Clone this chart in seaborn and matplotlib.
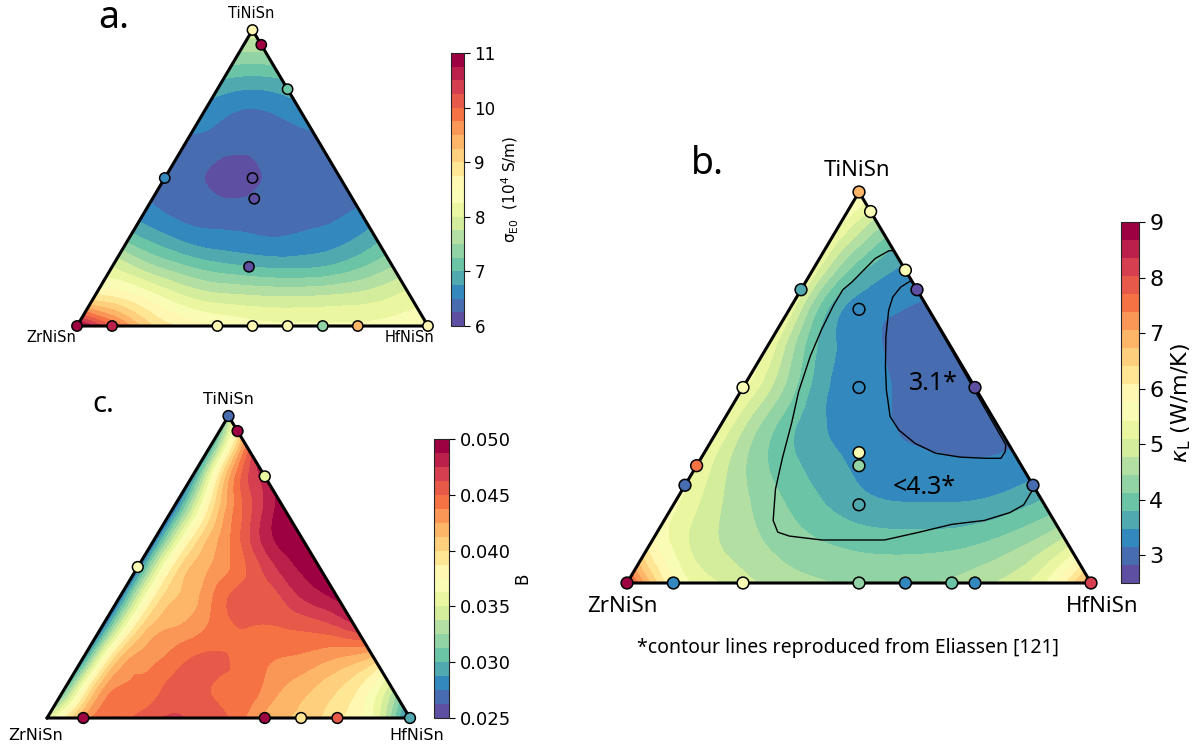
import numpy as np
import pandas as pd
import matplotlib
matplotlib.use("Agg")
import matplotlib.pyplot as plt
import matplotlib.tri as mtri
from matplotlib.colors import ListedColormap, Normalize
from matplotlib.cm import ScalarMappable
import seaborn as sns

# ---------------- data ----------------
# Field values on a 0.1-step composition grid. Row k: Ti = k/10,
# entries go from Hf = 0 (Zr-Ti edge) to Hf = 1 - Ti (Ti-Hf edge).
sigma_rows = [
    [11.0, 10.0, 9.1, 8.7, 8.5, 8.35, 8.3, 8.3, 8.3, 8.35, 8.4],
    [8.8, 8.6, 8.2, 7.9, 7.8, 7.75, 7.75, 7.8, 7.9, 8.1],
    [8.0, 7.6, 7.3, 7.1, 7.0, 6.95, 7.0, 7.2, 7.5],
    [7.1, 6.8, 6.6, 6.55, 6.5, 6.55, 6.65, 6.9],
    [6.55, 6.4, 6.35, 6.35, 6.35, 6.4, 6.5],
    [6.4, 6.28, 6.1, 6.3, 6.35, 6.45],
    [6.4, 6.35, 6.3, 6.35, 6.4],
    [6.6, 6.45, 6.45, 6.6],
    [6.85, 6.75, 6.85],
    [7.35, 7.35],
    [7.9],
]
kappa_rows = [
    [8.0, 5.8, 5.1, 4.7, 4.5, 4.4, 4.4, 4.5, 4.8, 5.4, 7.2],
    [5.9, 5.0, 4.6, 4.3, 4.1, 4.0, 4.0, 4.1, 4.4, 5.0],
    [5.5, 4.8, 4.3, 3.9, 3.6, 3.5, 3.5, 3.6, 3.9],
    [5.4, 4.5, 3.9, 3.55, 3.3, 3.25, 3.2, 3.3],
    [5.4, 4.3, 3.6, 3.3, 3.1, 2.95, 3.0],
    [5.5, 4.3, 3.4, 3.2, 2.95, 2.95],
    [5.4, 3.9, 3.3, 3.0, 3.0],
    [5.3, 3.6, 3.2, 3.1],
    [5.3, 3.9, 3.4],
    [5.4, 4.3],
    [5.9],
]
b_rows = [
    [0.035, 0.0425, 0.045, 0.046, 0.046, 0.045, 0.042, 0.041, 0.039, 0.036, 0.0265],
    [0.030, 0.042, 0.044, 0.0455, 0.045, 0.0445, 0.0425, 0.041, 0.039, 0.034],
    [0.028, 0.041, 0.0435, 0.045, 0.045, 0.044, 0.0435, 0.0425, 0.041],
    [0.027, 0.0395, 0.0425, 0.044, 0.045, 0.045, 0.0455, 0.047],
    [0.027, 0.039, 0.042, 0.045, 0.0455, 0.0475, 0.049],
    [0.027, 0.039, 0.0425, 0.045, 0.048, 0.0495],
    [0.027, 0.0385, 0.0435, 0.048, 0.0495],
    [0.027, 0.039, 0.0455, 0.0495],
    [0.028, 0.042, 0.048],
    [0.029, 0.044],
    [0.033],
]

# Measured samples (Ti fraction, Hf fraction, value)
a_ti = [1.0, 0.95, 0.8, 0.5, 0.5, 0.43, 0.2, 0.0, 0.0, 0.0, 0.0, 0.0, 0.0, 0.0, 0.0]
a_hf = [0.0, 0.05, 0.2, 0.0, 0.25, 0.29, 0.39, 0.0, 0.1, 0.4, 0.5, 0.6, 0.7, 0.8, 1.0]
a_val = [8.6, 10.9, 7.1, 6.6, 6.1, 6.2, 6.1, 11.0, 10.6, 8.7, 8.5, 8.6, 7.3, 9.4, 8.6]

b_ti = [1.0, 0.95, 0.8, 0.75, 0.5, 0.25, 0.75, 0.5, 0.3, 0.25,
        0.7, 0.5, 1/3, 0.3, 0.2, 0.0, 0.0, 0.0, 0.0, 0.0, 0.0, 0.0, 0.0]
b_hf = [0.0, 0.05, 0.2, 0.25, 0.5, 0.75, 0.0, 0.0, 0.0, 0.0,
        0.15, 0.25, 1/3, 0.35, 0.4, 0.0, 0.1, 0.25, 0.5, 0.6, 0.7, 0.75, 1.0]
b_val = [7.0, 5.6, 5.6, 2.7, 2.7, 2.9, 3.7, 5.6, 7.6, 2.9,
         3.3, 3.3, 5.7, 4.2, 3.7, 9.0, 3.2, 5.5, 4.4, 3.2, 4.1, 3.2, 8.2]

c_ti = [1.0, 0.95, 0.8, 0.5, 0.0, 0.0, 0.0, 0.0, 0.0]
c_hf = [0.0, 0.05, 0.2, 0.0, 0.1, 0.6, 0.7, 0.8, 1.0]
c_val = [0.027, 0.0495, 0.036, 0.0365, 0.0495, 0.0495, 0.0395, 0.046, 0.029]

# Contour lines reproduced from Eliassen (Ti fraction, Hf fraction)
outer_ti = [0.85, 0.85, 0.83, 0.77, 0.75, 0.71, 0.65, 0.58, 0.49, 0.41, 0.32, 0.24,
            0.16, 0.13, 0.12, 0.11, 0.11, 0.11, 0.13, 0.15, 0.16, 0.18, 0.20, 0.245, 0.85]
outer_hf = [0.15, 0.14, 0.12, 0.10, 0.09, 0.09, 0.095, 0.105, 0.125, 0.15, 0.175, 0.20,
            0.235, 0.26, 0.29, 0.365, 0.445, 0.50, 0.565, 0.625, 0.69, 0.735, 0.755, 0.755, 0.15]
inner_ti = [0.774, 0.757, 0.732, 0.698, 0.63, 0.553, 0.494, 0.426, 0.391, 0.357,
            0.332, 0.322, 0.319, 0.319, 0.336, 0.353, 0.774]
inner_hf = [0.226, 0.2115, 0.207, 0.215, 0.243, 0.2805, 0.312, 0.354, 0.3905, 0.4425,
            0.499, 0.557, 0.6115, 0.6465, 0.647, 0.64, 0.226]

corner_names = ["TiNiSn", "ZrNiSn", "HfNiSn"]

# ---------------- drawing ----------------
sns.set_style("white")
plt.rcParams['font.family'] = ['DejaVu Sans']
for k in ['text.color', 'axes.labelcolor', 'xtick.color', 'ytick.color']:
    plt.rcParams[k] = 'black'
S3 = np.sqrt(3) / 2
W, H = 1200, 749
fig = plt.figure(figsize=(12, 7.49), dpi=100)


def px_axes(x0, y0, x1, y1):
    return fig.add_axes([x0 / W, 1 - y1 / H, (x1 - x0) / W, (y1 - y0) / H])


def txt(x, y, s, **kw):
    fig.text(x / W, 1 - y / H, s, ha='center', va='center', **kw)


def to_xy(ti, hf):
    ti = np.asarray(ti, float)
    hf = np.asarray(hf, float)
    return hf + ti / 2, ti * S3


base = sns.color_palette("Spectral_r", as_cmap=True)
cmap = ListedColormap(base(np.linspace(0, 1, 20)))
cmap.set_under(cmap(0))
cmap.set_over(cmap(19))


def panel(ax, rows, vmin, vmax, pti, phf, pval, size):
    ti, hf, z = [], [], []
    for k, row in enumerate(rows):
        for j, v in enumerate(row):
            ti.append(k / 10)
            hf.append(j / 10)
            z.append(v)
    x, y = to_xy(ti, hf)
    tri = mtri.Triangulation(x, y)
    tri2, z2 = mtri.UniformTriRefiner(tri).refine_field(np.array(z), subdiv=4)
    ax.tricontourf(tri2, z2, levels=np.linspace(vmin, vmax, 21), cmap=cmap,
                   norm=Normalize(vmin, vmax), extend='both')
    ax.plot([0, 1, 0.5, 0], [0, 0, S3, 0], color='black', lw=2.2,
            clip_on=False, solid_joinstyle='round', zorder=4)
    px, py = to_xy(pti, phf)
    df = pd.DataFrame({"x": px, "y": py, "v": pval})
    sns.scatterplot(data=df, x="x", y="y", hue="v", palette=cmap,
                    hue_norm=(vmin, vmax), s=size, edgecolor='black',
                    linewidth=1.1, legend=False, ax=ax, clip_on=False, zorder=6)
    ax.set_xlim(0, 1)
    ax.set_ylim(0, S3)
    ax.set_axis_off()


def cbar(cax, vmin, vmax, ticks, fs, label, lfs, pad, fmt=None):
    cb = fig.colorbar(ScalarMappable(norm=Normalize(vmin, vmax), cmap=cmap),
                      cax=cax, ticks=ticks)
    cb.outline.set_linewidth(0.8)
    cax.tick_params(labelsize=fs, length=4, width=0.8)
    if fmt:
        cax.set_yticklabels([fmt % t for t in ticks])
    cb.set_label(label, fontsize=lfs, labelpad=pad)
    return cb


# Panel a
axa = px_axes(77, 30, 428, 326)
panel(axa, sigma_rows, 6, 11, a_ti, a_hf, a_val, 55)
cbar(px_axes(451, 53, 464, 326), 6, 11, [6, 7, 8, 9, 10, 11], 12,
     r'σ$_{\mathrm{E0}}$  (10$^4$ S/m)', 11, 3)

# Panel b
axb = px_axes(627, 192, 1091, 583)
panel(axb, kappa_rows, 2.5, 9, b_ti, b_hf, b_val, 72)
ox, oy = to_xy(outer_ti, outer_hf)
ix, iy = to_xy(inner_ti, inner_hf)
axb.plot(ox, oy, color='black', lw=1.0, zorder=3)
axb.plot(ix, iy, color='black', lw=1.0, zorder=3)
tx, ty = to_xy([0.511, 0.243], [0.405, 0.52])
axb.text(tx[0], ty[0], "3.1*", fontsize=18, ha='center', va='center',
         family=['Noto Sans'], zorder=7)
axb.text(tx[1], ty[1], "<4.3*", fontsize=18, ha='center', va='center',
         family=['Noto Sans'], zorder=7)
cbar(px_axes(1121, 222, 1139, 583), 2.5, 9, [3, 4, 5, 6, 7, 8, 9], 16,
     r'$\kappa_{\mathrm{L}}$ (W/m/K)', 16, 4)

# Panel c
axc = px_axes(47, 416, 410, 718)
panel(axc, b_rows, 0.025, 0.050, c_ti, c_hf, c_val, 60)
cticks = [0.025, 0.030, 0.035, 0.040, 0.045, 0.050]
cbar(px_axes(434, 439, 449, 718), 0.025, 0.050, cticks, 13, 'B', 12, 2, fmt='%.3f')

# Corner labels
txt(251, 13, corner_names[0], fontsize=10.5)
txt(51, 337, corner_names[1], fontsize=10.5)
txt(410, 337, corner_names[2], fontsize=10.5)

txt(228, 400, corner_names[0], fontsize=11.5)
txt(36, 735, corner_names[1], fontsize=11.5)
txt(417, 735, corner_names[2], fontsize=11.5)

txt(857, 171, corner_names[0], fontsize=16, family=['Noto Sans'])
txt(622, 607, corner_names[1], fontsize=16, family=['Noto Sans'])
txt(1102, 606, corner_names[2], fontsize=16, family=['Noto Sans'])

txt(848, 648, "*contour lines reproduced from Eliassen [121]", fontsize=14,
    family=['Noto Sans'])

# Panel letters
txt(114, 18, "a.", fontsize=27, family=['Noto Sans'])
txt(707, 164, "b.", fontsize=27, family=['Noto Sans'])
txt(103, 404, "c.", fontsize=21, family=['Noto Sans'])

fig.savefig("out.png", dpi=100)
